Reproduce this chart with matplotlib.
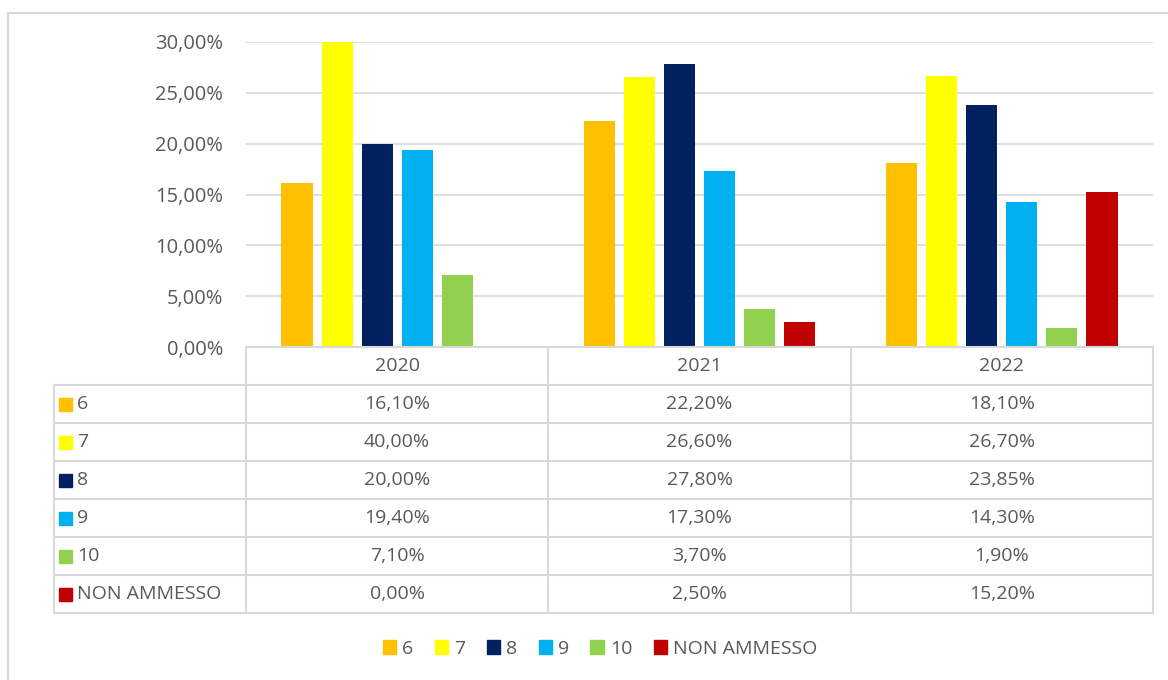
import matplotlib
matplotlib.use("Agg")
import matplotlib.pyplot as plt
from matplotlib.patches import Rectangle
from matplotlib.ticker import FuncFormatter

years = ["2020", "2021", "2022"]
series = ["6", "7", "8", "9", "10", "NON AMMESSO"]
v6 = [16.10, 22.20, 18.10]
v7 = [40.00, 26.60, 26.70]
v8 = [20.00, 27.80, 23.85]
v9 = [19.40, 17.30, 14.30]
v10 = [7.10, 3.70, 1.90]
vna = [0.00, 2.50, 15.20]
values = [v6, v7, v8, v9, v10, vna]
colors = ["#FFC000", "#FFFF00", "#002060", "#00B0F0", "#92D050", "#C00000"]

FONT = "Open Sans"
TXT = "#595959"
GRID = "#D9D9D9"
FS = 14
plt.rcParams["font.family"] = [FONT, "DejaVu Sans"]

W, H = 1168, 680
fig = plt.figure(figsize=(W / 100, H / 100), dpi=100)

# plot area in pixel coords
L, R, T, B = 246, 1153, 42, 347
ax = fig.add_axes([L / W, 1 - B / H, (R - L) / W, (B - T) / H])

n = len(series)
slot = 0.1325
bw = 0.103
for i, (vals, c) in enumerate(zip(values, colors)):
    xs = [k + 0.5 + (i - (n - 1) / 2) * slot for k in range(len(years))]
    ax.bar(xs, vals, width=bw, color=c, zorder=3)

ax.set_xlim(0, len(years))
ax.set_ylim(0, 30)
ax.set_yticks(range(0, 31, 5))
ax.yaxis.set_major_formatter(FuncFormatter(lambda v, p: f"{v:.2f}%".replace(".", ",")))
ax.tick_params(axis="y", length=0, pad=16.5, labelsize=FS + 0.5, labelcolor=TXT)
ax.set_xticks([])
ax.grid(axis="y", color=GRID, lw=1.2, zorder=0)
for s in ax.spines.values():
    s.set_visible(False)

# overlay in pixel coords for frame
ov = fig.add_axes([0, 0, 1, 1], zorder=-1)
ov.set_xlim(0, W)
ov.set_ylim(H, 0)
ov.axis("off")
ov.plot([8, W], [13, 13], color=GRID, lw=1.5)
ov.plot([8, 8], [13, H], color=GRID, lw=1.5)

# data table
colw = (R - L) / len(years)
row_h = 38
hdr_top = B
rows_top = B + row_h
lab_left = 54
nrows = len(series)
bottom = rows_top + nrows * row_h
lw = 1.5
ov2 = fig.add_axes([0, 0, 1, 1], zorder=5)
ov2.set_xlim(0, W)
ov2.set_ylim(H, 0)
ov2.axis("off")
ov2.plot([L, R], [hdr_top, hdr_top], color=GRID, lw=lw)
for r in range(nrows + 1):
    y = rows_top + r * row_h
    ov2.plot([lab_left, R], [y, y], color=GRID, lw=lw)
ov2.plot([lab_left, lab_left], [rows_top, bottom], color=GRID, lw=lw)
for k in range(len(years) + 1):
    x = L + k * colw
    ov2.plot([x, x], [hdr_top, bottom], color=GRID, lw=lw)
for k, yr in enumerate(years):
    ov2.text(L + (k + 0.5) * colw, hdr_top + row_h / 2, yr, ha="center", va="center",
             fontsize=FS, color=TXT)
for r, (name, vals, c) in enumerate(zip(series, values, colors)):
    yc = rows_top + (r + 0.5) * row_h
    ov2.add_patch(Rectangle((59, yc - 6.5), 13, 13, color=c))
    ov2.text(77, yc, name, ha="left", va="center", fontsize=FS, color=TXT)
    for k, v in enumerate(vals):
        ov2.text(L + (k + 0.5) * colw, yc, f"{v:.2f}%".replace(".", ","), ha="center",
                 va="center", fontsize=FS, color=TXT)

# legend
handles = [Rectangle((0, 0), 1, 1, color=c) for c in colors]
fig.legend(handles, series, loc="center", bbox_to_anchor=(600 / W, 1 - 649 / H), ncol=6,
           frameon=False, fontsize=FS, labelcolor=TXT, handlelength=0.7, handleheight=0.7,
           handletextpad=0.3, columnspacing=1.1)

fig.savefig("out.png", dpi=100, facecolor="white")
